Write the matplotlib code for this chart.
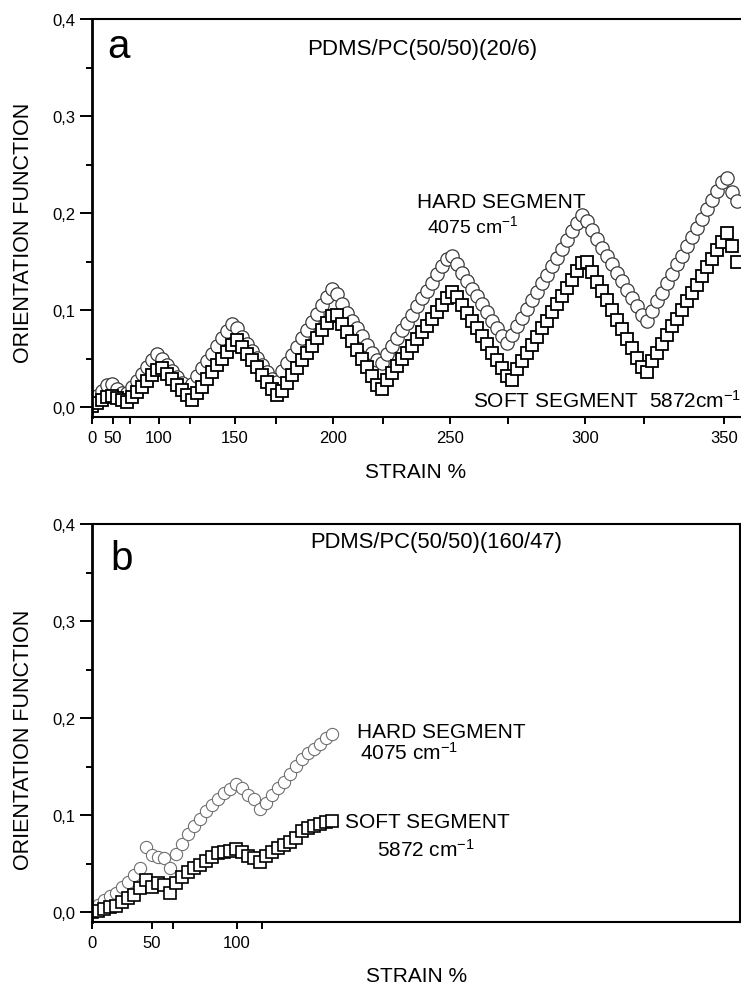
import numpy as np
import matplotlib
matplotlib.use("Agg")
import matplotlib.pyplot as plt

plt.rcParams['font.family'] = ['Liberation Sans', 'DejaVu Sans']
plt.rcParams['mathtext.fontset'] = 'custom'
plt.rcParams['mathtext.rm'] = 'Liberation Sans'
plt.rcParams['mathtext.it'] = 'Liberation Sans:italic'

# ---------------- data: panel a (time-like sampling axis) ----------------
t_a = np.arange(0, 650, 5)
hard_a = [0.005, 0.011, 0.017, 0.023, 0.024, 0.019, 0.014, 0.014, 0.021, 0.027,
          0.034, 0.041, 0.048, 0.055, 0.049, 0.043, 0.037, 0.031, 0.025, 0.019,
          0.024, 0.032, 0.040, 0.047, 0.055, 0.063, 0.071, 0.078, 0.086, 0.081,
          0.072, 0.065, 0.058, 0.051, 0.043, 0.036, 0.029, 0.026, 0.037, 0.045,
          0.054, 0.062, 0.071, 0.079, 0.088, 0.096, 0.105, 0.113, 0.122, 0.117,
          0.106, 0.097, 0.089, 0.081, 0.073, 0.064, 0.056, 0.048, 0.045, 0.055,
          0.063, 0.071, 0.079, 0.087, 0.095, 0.104, 0.112, 0.120, 0.128, 0.137,
          0.145, 0.153, 0.156, 0.147, 0.138, 0.130, 0.122, 0.114, 0.106, 0.098,
          0.089, 0.081, 0.073, 0.066, 0.074, 0.083, 0.092, 0.101, 0.110, 0.119,
          0.128, 0.136, 0.145, 0.154, 0.163, 0.172, 0.181, 0.190, 0.198, 0.192,
          0.182, 0.173, 0.164, 0.156, 0.147, 0.138, 0.130, 0.121, 0.112, 0.104,
          0.095, 0.089, 0.099, 0.109, 0.118, 0.128, 0.137, 0.147, 0.156, 0.166,
          0.175, 0.185, 0.194, 0.204, 0.213, 0.223, 0.232, 0.236, 0.222, 0.212]
soft_a = [0.001, 0.004, 0.007, 0.010, 0.011, 0.009, 0.007, 0.005, 0.010, 0.015,
          0.021, 0.027, 0.033, 0.038, 0.040, 0.034, 0.029, 0.023, 0.018, 0.012,
          0.007, 0.014, 0.021, 0.029, 0.036, 0.043, 0.050, 0.057, 0.064, 0.069,
          0.062, 0.055, 0.048, 0.041, 0.033, 0.026, 0.019, 0.012, 0.017, 0.025,
          0.033, 0.040, 0.048, 0.056, 0.063, 0.071, 0.079, 0.087, 0.094, 0.095,
          0.086, 0.077, 0.068, 0.059, 0.050, 0.041, 0.032, 0.023, 0.019, 0.028,
          0.035, 0.042, 0.049, 0.056, 0.063, 0.070, 0.077, 0.084, 0.091, 0.098,
          0.105, 0.112, 0.119, 0.113, 0.105, 0.097, 0.089, 0.081, 0.073, 0.065,
          0.056, 0.048, 0.040, 0.032, 0.028, 0.039, 0.047, 0.056, 0.064, 0.072,
          0.081, 0.089, 0.098, 0.106, 0.114, 0.123, 0.131, 0.140, 0.148, 0.149,
          0.139, 0.129, 0.120, 0.110, 0.100, 0.090, 0.080, 0.070, 0.061, 0.051,
          0.041, 0.036, 0.047, 0.056, 0.065, 0.074, 0.083, 0.091, 0.100, 0.109,
          0.118, 0.126, 0.135, 0.144, 0.153, 0.162, 0.170, 0.179, 0.166, 0.150]
ticks_a = [0, 21, 67, 143, 241, 358, 493, 632]
ticklabels_a = ['0', '50', '100', '150', '200', '250', '300', '350']
minor_a = [38, 98, 184, 291, 416, 552]

# ---------------- data: panel b ----------------
t_b = np.arange(0, 241, 6)
hard_b = [0.002, 0.007, 0.012, 0.017, 0.020, 0.026, 0.031, 0.038, 0.045, 0.067,
          0.059, 0.057, 0.056, 0.045, 0.060, 0.070, 0.080, 0.089, 0.096, 0.104,
          0.110, 0.117, 0.123, 0.127, 0.132, 0.128, 0.121, 0.117, 0.106, 0.112,
          0.121, 0.128, 0.134, 0.142, 0.151, 0.158, 0.164, 0.168, 0.173, 0.179,
          0.183]
soft_b = [0.000, 0.001, 0.003, 0.005, 0.006, 0.010, 0.014, 0.018, 0.025, 0.033,
          0.026, 0.030, 0.028, 0.020, 0.030, 0.036, 0.041, 0.045, 0.048, 0.053,
          0.057, 0.061, 0.062, 0.063, 0.065, 0.062, 0.058, 0.056, 0.052, 0.058,
          0.062, 0.066, 0.069, 0.072, 0.076, 0.084, 0.087, 0.089, 0.091, 0.093,
          0.094]
ticks_b = [0, 60, 145]
ticklabels_b = ['0', '50', '100']
minor_b = [81, 170]

yticks = [0.0, 0.1, 0.2, 0.3, 0.4]
yticklabels = ['0,0', '0,1', '0,2', '0,3', '0,4']
yminor = [0.05, 0.15, 0.25, 0.35]

W, H = 741, 987
fig = plt.figure(figsize=(W / 100, H / 100), dpi=100)


def fx(px):
    return px / W


def fy(py):
    return 1 - py / H


def make_axes(top_px, bottom_px):
    return fig.add_axes([fx(92), fy(bottom_px), fx(740) - fx(92), fy(top_px) - fy(bottom_px)])


axa = make_axes(20, 418)
axb = make_axes(525, 923)

# panel a
axa.plot(t_a, hard_a, linestyle='none', marker='o', ms=9.6, mfc='white',
         mec='#3a3a3a', mew=0.9)
axa.plot(t_a, soft_a, linestyle='none', marker='s', ms=8.4, mfc='white',
         mec='black', mew=1.3)
axa.set_xlim(0, 648)
axa.set_xticks(ticks_a)
axa.set_xticklabels(ticklabels_a)
axa.set_xticks(minor_a, minor=True)

# panel b
axb.plot(t_b, hard_b, linestyle='none', marker='o', ms=8.8, mfc='white',
         mec='#707070', mew=0.8)
axb.plot(t_b, soft_b, linestyle='none', marker='s', ms=8.0, mfc='white',
         mec='black', mew=1.2)
axb.set_xlim(0, 648)
axb.set_xticks(ticks_b)
axb.set_xticklabels(ticklabels_b)
axb.set_xticks(minor_b, minor=True)

for ax in (axa, axb):
    ax.set_ylim(-0.0103, 0.4)
    ax.set_yticks(yticks)
    ax.set_yticklabels(yticklabels)
    ax.set_yticks(yminor, minor=True)
    ax.tick_params(axis='y', which='major', direction='out', length=8.6, width=1.4,
                   pad=3.5, labelsize=12)
    ax.tick_params(axis='y', which='minor', direction='out', length=4.3, width=1.4)
    ax.tick_params(axis='x', which='both', direction='out', length=5, width=1.4,
                   pad=4.5, labelsize=12)
    for side in ('left', 'bottom', 'top', 'right'):
        ax.spines[side].set_linewidth(1.5)
    ax.spines['left'].set_linewidth(2.0)

axa.spines['right'].set_visible(False)

# texts panel a
fig.text(fx(107), fy(58), 'a', fontsize=29, ha='left', va='baseline')
fig.text(fx(307), fy(55), 'PDMS/PC(50/50)(20/6)', fontsize=16, ha='left', va='baseline')
fig.text(fx(417), fy(208), 'HARD SEGMENT', fontsize=15, ha='left', va='baseline')
fig.text(fx(427), fy(233), '4075 cm$^{-1}$', fontsize=14, ha='left', va='baseline')
fig.text(fx(473), fy(408), 'SOFT SEGMENT  5872cm$^{-1}$', fontsize=15, ha='left', va='baseline')
fig.text(fx(416), fy(473), 'STRAIN %', fontsize=15, ha='center', va='center')
fig.text(fx(24), fy(233), 'ORIENTATION FUNCTION', fontsize=15.5, rotation=90,
         ha='center', va='center')

# texts panel b
fig.text(fx(110), fy(570), 'b', fontsize=29, ha='left', va='baseline')
fig.text(fx(310), fy(548), 'PDMS/PC(50/50)(160/47)', fontsize=15.8, ha='left', va='baseline')
fig.text(fx(357), fy(738), 'HARD SEGMENT', fontsize=15, ha='left', va='baseline')
fig.text(fx(360), fy(760), '4075 cm$^{-1}$', fontsize=15, ha='left', va='baseline')
fig.text(fx(345), fy(828), 'SOFT SEGMENT', fontsize=15, ha='left', va='baseline')
fig.text(fx(377), fy(857), '5872 cm$^{-1}$', fontsize=15, ha='left', va='baseline')
fig.text(fx(417), fy(977), 'STRAIN %', fontsize=15, ha='center', va='center')
fig.text(fx(24), fy(740), 'ORIENTATION FUNCTION', fontsize=15.5, rotation=90,
         ha='center', va='center')

fig.savefig('out.png', dpi=100)
